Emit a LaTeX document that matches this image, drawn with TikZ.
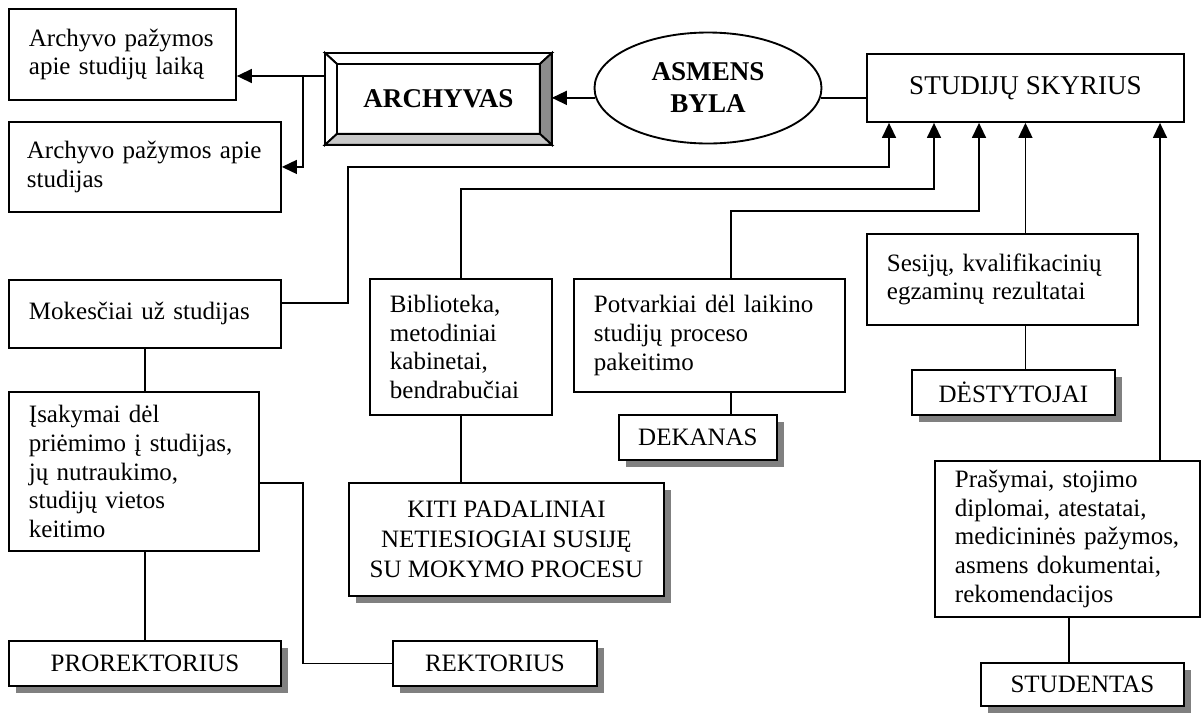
\documentclass[tikz,border=0pt]{standalone}
\usepackage{fontspec}
\setmainfont{Liberation Serif}
\usepackage{xcolor}
\usepackage{tikz}
\usetikzlibrary{calc, shapes.geometric, positioning, arrows.meta, shadows}

\newlength\pxu
\setlength\pxu{0.48pt}

\definecolor{bevdark}{HTML}{8C8C8C}
\definecolor{bevlight}{HTML}{C8C8C8}
\definecolor{shade}{HTML}{808080}

\tikzset{
  docbox/.style={draw, line width=0.9pt, fill=white, align=left, anchor=north west,
    inner xsep=20\pxu, inner ysep=0pt, font=\fontsize{12}{13.7}\selectfont},
  namebox/.style={draw, line width=0.9pt, fill=white, align=center, anchor=north west,
    inner sep=0pt, font=\fontsize{12}{13.7}\selectfont,
    drop shadow={shadow xshift=3.36pt, shadow yshift=-3.36pt, fill=shade, opacity=1}},
  link/.style={line width=0.75pt},
  arr/.style={line width=0.75pt, -{Triangle[length=7.2pt, width=6.7pt]}},
}

\begin{document}
\begin{tikzpicture}[x=\pxu, y=-\pxu]

    \useasboundingbox (0,0) rectangle (1201,713);

    % =================================================================
    % 1. VIRSUTINE EILE: ARCHYVAS, ASMENS BYLA, STUDIJU SKYRIUS
    % =================================================================
    \node[docbox, text width=187\pxu, minimum height=91\pxu] (laika) at (8,8)
        {Archyvo pažymos\\apie studijų laiką};
    \node[docbox, inner xsep=18\pxu, text width=236\pxu, minimum height=90\pxu] (studijos) at (8,121)
        {Archyvo pažymos apie\\studijas};

    \node[anchor=north west, inner sep=0pt, minimum width=226\pxu, minimum height=91\pxu,
        font=\fontsize{13}{15}\selectfont\bfseries] (archyvas) at (325,53) {ARCHYVAS};

    \node[ellipse, draw, line width=0.9pt, minimum width=227\pxu, minimum height=111\pxu,
        inner sep=0pt, align=center, font=\fontsize{13}{15.4}\selectfont\bfseries] (byla) at (708,88)
        {ASMENS\\BYLA};

    \node[draw, line width=0.9pt, anchor=north west, inner sep=0pt, minimum width=317\pxu,
        minimum height=68\pxu, font=\fontsize{13}{15}\selectfont] (skyrius) at (866,53)
        {STUDIJŲ SKYRIUS};

    % ARCHYVAS remelio nuozulnumai
    \coordinate (bNW) at ([shift={(12,11)}]archyvas.north west);
    \coordinate (bNE) at ([shift={(-12,11)}]archyvas.north east);
    \coordinate (bSW) at ([shift={(12,-11)}]archyvas.south west);
    \coordinate (bSE) at ([shift={(-12,-11)}]archyvas.south east);
    \filldraw[line width=0.9pt, fill=white] (archyvas.north west) -- (archyvas.north east) -- (bNE) -- (bNW) -- cycle;
    \filldraw[line width=0.9pt, fill=white] (archyvas.north west) -- (bNW) -- (bSW) -- (archyvas.south west) -- cycle;
    \filldraw[line width=0.9pt, fill=bevdark] (archyvas.north east) -- (archyvas.south east) -- (bSE) -- (bNE) -- cycle;
    \filldraw[line width=0.9pt, fill=bevlight] (archyvas.south west) -- (archyvas.south east) -- (bSE) -- (bSW) -- cycle;

    % =================================================================
    % 2. DOKUMENTU LANGELIAI
    % =================================================================
    \node[docbox, text width=232\pxu, minimum height=68\pxu] (mokesciai) at (8,279)
        {Mokesčiai už studijas};
    \node[docbox, text width=210\pxu, minimum height=159\pxu] (isakymai) at (8,391)
        {Įsakymai dėl\\priėmimo į studijas,\\jų nutraukimo,\\studijų vietos\\keitimo};
    \node[docbox, text width=142\pxu, minimum height=136\pxu] (biblioteka) at (369,278)
        {Biblioteka,\\metodiniai\\kabinetai,\\bendrabučiai};
    \node[docbox, text width=231\pxu, minimum height=113\pxu] (potvarkiai) at (573,278)
        {Potvarkiai dėl laikino\\studijų proceso\\pakeitimo};
    \node[docbox, text width=231\pxu, minimum height=91\pxu] (sesijos) at (866,233)
        {Sesijų, kvalifikacinių\\egzaminų rezultatai};
    \node[docbox, text width=225\pxu, minimum height=156\pxu] (prasymai) at (934,460)
        {Prašymai, stojimo\\diplomai, atestatai,\\medicininės pažymos,\\asmens dokumentai,\\rekomendacijos};

    % =================================================================
    % 3. ASMENYS IR PADALINIAI (SU SESELIU)
    % =================================================================
    \node[namebox, minimum width=272\pxu, minimum height=45\pxu] (prorektorius) at (8,640) {PROREKTORIUS};
    \node[namebox, minimum width=204\pxu, minimum height=45\pxu] (rektorius) at (392,640) {REKTORIUS};
    \node[namebox, minimum width=315\pxu, minimum height=113\pxu, font=\fontsize{12}{14.4}\selectfont] (kiti) at (348,482)
        {KITI PADALINIAI\\NETIESIOGIAI SUSIJĘ\\SU MOKYMO PROCESU};
    \node[namebox, minimum width=158\pxu, minimum height=45\pxu] (dekanas) at (618,414) {DEKANAS};
    \node[namebox, minimum width=203\pxu, minimum height=45\pxu] (destytojai) at (911,369) {DĖSTYTOJAI};
    \node[namebox, minimum width=203\pxu, minimum height=43\pxu] (studentas) at (980,662) {STUDENTAS};

    % =================================================================
    % 4. JUNGTYS
    % =================================================================
    \coordinate (split) at (303,76);
    \coordinate (colM) at (348,0);
    \coordinate (colR) at (303,0);
    \coordinate (colP) at (731,0);
    \coordinate (colS) at (1069,0);
    \coordinate (rowA) at (0,167);
    \coordinate (rowB) at (0,189);
    \coordinate (rowC) at (0,211);
    \coordinate (tipA) at ([xshift=23\pxu]skyrius.south west);
    \coordinate (tipB) at ([xshift=68\pxu]skyrius.south west);
    \coordinate (tipC) at ([xshift=113\pxu]skyrius.south west);
    \coordinate (tipD) at (skyrius.south);
    \coordinate (tipE) at ([xshift=294\pxu]skyrius.south west);

    % archyvas -> pazymos
    \draw[arr] (split -| archyvas.west) -- (split -| laika.east);
    \draw[arr] (split) |- (studijos.east);

    % asmens byla
    \draw[arr] (byla.185) -- (byla.185 -| archyvas.east);
    \draw[link] (byla.355) -- (byla.355 -| skyrius.west);

    % i studiju skyriu
    \draw[arr] ([yshift=11\pxu]mokesciai.east) -| (colM |- rowA) -- (rowA -| tipA) -- (tipA);
    \draw[arr] (biblioteka.north) |- (rowB -| tipB) -- (tipB);
    \draw[arr] (colP |- potvarkiai.north) |- (rowC -| tipC) -- (tipC);
    \draw[arr] (tipD |- sesijos.north) -- (tipD);
    \draw[arr] (tipE |- prasymai.north) -- (tipE);

    % zemyn i asmenis
    \draw[link] (mokesciai.south) -- (mokesciai.south |- isakymai.north);
    \draw[link] (prorektorius.north |- isakymai.south) -- (prorektorius.north);
    \draw[link] ([yshift=-11.5\pxu]isakymai.east) -| (colR |- rektorius.west) -- (rektorius.west);
    \draw[link] (biblioteka.south) -- (biblioteka.south |- kiti.north);
    \draw[link] (colP |- potvarkiai.south) -- (colP |- dekanas.north);
    \draw[link] (tipD |- sesijos.south) -- (tipD |- destytojai.north);
    \draw[link] (colS |- prasymai.south) -- (colS |- studentas.north);

\end{tikzpicture}
\end{document}
